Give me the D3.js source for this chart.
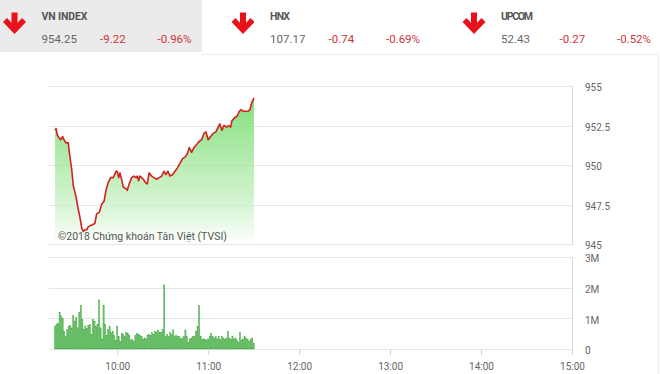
<!DOCTYPE html>
<html><head><meta charset="utf-8">
<script src="https://cdn.jsdelivr.net/npm/d3@7"></script>
<style>
html,body{margin:0;padding:0;background:#fff;}
svg{display:block;font-family:Roboto,"Noto Sans",sans-serif;}
</style></head>
<body>
<svg id="c" width="660" height="374"></svg>
<script>
// ---------- DATA ----------
const indexNames   = ["VN INDEX", "HNX", "UPCOM"];
const indexValues  = ["954.25", "107.17", "52.43"];
const indexChanges = ["-9.22", "-0.74", "-0.27"];
const indexPcts    = ["-0.96%", "-0.69%", "-0.52%"];

// minutes since 09:00
const priceMinutes = [19.0,19.6,20.5,21.8,22.7,24.0,24.9,26.2,27.7,28.4,30.0,31.0,32.8,34.3,35.4,36.6,37.6,38.7,39.9,40.9,43.2,45.3,46.4,48.2,49.7,51.3,52.6,54.1,55.7,57.4,59.2,60.0,61.0,61.8,62.9,64.0,65.8,66.6,67.9,69.5,71.0,72.4,73.2,74.1,75.0,76.1,77.2,78.5,79.8,81.1,82.7,84.2,86.0,87.7,89.3,90.8,92.1,93.5,94.8,96.6,98.1,99.6,101.4,103.1,104.7,106.2,107.5,109.1,110.6,112.4,114.1,115.7,117.2,118.5,120.0,121.6,123.3,125.1,126.6,127.7,129.1,130.4,132.2,133.5,134.8,135.7,137.6,139.1,140.5,141.8,143.1,144.9,146.4,147.5,148.6,150.2];
const priceValues  = [952.2,952.3,951.9,951.7,951.6,951.8,951.6,951.4,951.4,950.8,949.7,948.7,948.0,947.2,946.7,946.0,945.8,945.9,945.9,946.1,946.2,946.3,946.9,947.0,947.5,947.7,948.4,948.9,949.2,949.2,949.6,949.6,949.2,949.5,949.1,948.6,948.5,948.4,948.8,949.2,949.3,949.2,949.3,949.0,949.3,949.2,949.1,948.9,948.8,949.5,949.3,949.2,949.1,949.2,949.3,949.6,949.4,949.6,949.3,949.4,949.6,949.8,950.1,950.4,950.5,950.7,951.1,950.8,951.1,951.3,951.5,951.6,952.0,952.1,951.6,951.8,952.0,952.1,952.4,952.6,952.2,952.5,952.4,952.5,952.4,952.8,953.0,953.1,953.4,953.5,953.4,953.4,953.4,953.5,953.9,954.25];

// per-minute volume (millions of shares) starting 09:19
const volumeStartMinute = 19;
const volumeValues = [0.75,0.8,0.83,1.2,1.08,0.99,0.58,0.42,0.64,0.73,0.77,0.69,1.1,0.91,1.02,0.69,1.19,1.43,0.97,0.64,0.75,0.66,0.77,0.8,0.47,0.97,0.91,0.73,0.8,1.6,0.69,0.33,1.43,0.8,0.44,0.64,0.73,0.53,0.58,0.44,0.29,0.75,0.4,0.25,0.51,0.47,0.4,0.55,0.51,0.44,0.29,0.31,0.25,0.44,0.51,0.47,0.44,0.42,0.31,0.36,0.33,0.44,0.47,0.44,0.53,0.47,0.58,0.55,0.62,0.53,0.55,0.64,2.09,0.4,0.47,0.4,0.55,0.47,0.62,0.4,0.44,0.4,0.4,0.33,0.36,0.4,0.62,0.4,0.22,0.33,0.36,0.4,0.4,0.58,0.73,1.43,0.4,0.31,0.33,0.31,0.29,0.33,0.4,0.51,0.4,0.36,0.4,0.33,0.4,0.31,0.4,0.36,0.31,0.36,0.58,0.36,0.31,0.4,0.33,0.36,0.29,0.22,0.53,0.29,0.33,0.4,0.36,0.31,0.25,0.31,0.36,0.18];

const xTickMinutes = [60,120,180,240,300,360];
const xTickLabels  = ["10:00","11:00","12:00","13:00","14:00","15:00"];
const priceTicks   = [945,947.5,950,952.5,955];
const priceTickLabels = ["945","947.5","950","952.5","955"];
const volTicks     = [0,1,2,3];
const volTickLabels = ["0","1M","2M","3M"];
const copyright = "©2018 Chứng khoán Tân Việt (TVSI)";

// ---------- DRAW ----------
const svg = d3.select("#c");

// header
svg.append("rect").attr("x",0).attr("y",0).attr("width",202).attr("height",52).attr("fill","#ebebeb");
svg.append("line").attr("x1",202).attr("x2",659).attr("y1",54.5).attr("y2",54.5).attr("stroke","#ececec");
svg.append("line").attr("x1",658.5).attr("x2",658.5).attr("y1",54).attr("y2",374).attr("stroke","#ececec");

const groupX = [3.5, 232, 463];
indexNames.forEach((n,i)=>{
  const g = svg.append("g").attr("transform",`translate(${groupX[i]},0)`);
  g.append("path").attr("d","M11,12.5 L11,31").attr("stroke","#e8121b").attr("stroke-width",6).attr("fill","none");
  g.append("path").attr("d","M1.5,20 L11,30 L20.5,20").attr("stroke","#e8121b").attr("stroke-width",5.5).attr("fill","none").attr("stroke-linejoin","miter");
  g.append("text").attr("x",38).attr("y",19.5).attr("font-size",10.5).attr("font-weight","bold").attr("fill","#555").attr("textLength", n==="VN INDEX"?46:(n==="HNX"?20:32)).text(n);
  g.append("text").attr("x",38).attr("y",42.5).attr("font-size",11.5).attr("fill","#666").text(indexValues[i]);
  g.append("text").attr("x",96.5).attr("y",42.5).attr("font-size",11.5).attr("fill","#d0343a").text(indexChanges[i]);
  g.append("text").attr("x",188).attr("y",42.5).attr("font-size",11.5).attr("fill","#d0343a").attr("text-anchor","end").text(indexPcts[i]);
});

const x = d3.scaleLinear().domain([15,360]).range([49,572]);
const yP = d3.scaleLinear().domain([945,955]).range([244,86]);
const yV = d3.scaleLinear().domain([0,3]).range([349,257]);

// grids
function grid(ticks, scale){
  svg.append("g").selectAll("line").data(ticks).join("line")
    .attr("x1",49).attr("x2",572)
    .attr("y1",d=>Math.round(scale(d))+0.5).attr("y2",d=>Math.round(scale(d))+0.5)
    .attr("stroke","#e5e5e5");
}
grid(priceTicks,yP);
grid(volTicks,yV);
// right frame lines
svg.append("line").attr("x1",572.5).attr("x2",572.5).attr("y1",86).attr("y2",245).attr("stroke","#d6d9dd");
svg.append("line").attr("x1",572.5).attr("x2",572.5).attr("y1",257).attr("y2",350).attr("stroke","#d6d9dd");

// gradient
const defs = svg.append("defs");
const grad = defs.append("linearGradient").attr("id","ga").attr("gradientUnits","userSpaceOnUse")
  .attr("x1",0).attr("x2",0).attr("y1",yP(954.5)).attr("y2",yP(945));
grad.append("stop").attr("offset",0).attr("stop-color","#74dc6c").attr("stop-opacity",0.95);
grad.append("stop").attr("offset",0.55).attr("stop-color","#a6e8a0").attr("stop-opacity",0.7);
grad.append("stop").attr("offset",1).attr("stop-color","#ffffff").attr("stop-opacity",0.9);

const pts = priceMinutes.map((m,i)=>[m,priceValues[i]]);
svg.append("path").datum(pts).attr("fill","url(#ga)")
  .attr("d", d3.area().x(d=>x(d[0])).y0(yP(945)).y1(d=>yP(d[1])));

// copyright
svg.append("text").attr("x",58).attr("y",240).attr("font-size",10.5).attr("fill","#555").text(copyright);

svg.append("path").datum(pts).attr("fill","none").attr("stroke","#d3211d").attr("stroke-width",1.6)
  .attr("stroke-linejoin","round")
  .attr("d", d3.line().x(d=>x(d[0])).y(d=>yP(d[1])));

// volume bars
svg.append("g").selectAll("rect").data(volumeValues).join("rect")
  .attr("x",(d,i)=>x(volumeStartMinute+i)-0.6)
  .attr("width",1.2)
  .attr("y",d=>yV(d))
  .attr("height",d=>yV(0)-yV(d))
  .attr("fill","#6cc46a")
  .attr("stroke","#339e33").attr("stroke-width",0.35);

// axes
const yAxisP = d3.axisRight(yP).tickValues(priceTicks).tickSize(0).tickPadding(13)
  .tickFormat((d,i)=>priceTickLabels[i]);
const gp = svg.append("g").attr("transform","translate(572,1.5)").call(yAxisP);
const yAxisV = d3.axisRight(yV).tickValues(volTicks).tickSize(0).tickPadding(13)
  .tickFormat((d,i)=>volTickLabels[i]);
const gv = svg.append("g").attr("transform","translate(572,1.5)").call(yAxisV);
const xAxis = d3.axisBottom(x).tickValues(xTickMinutes).tickSize(6).tickPadding(8)
  .tickFormat((d,i)=>xTickLabels[i]);
const gx = svg.append("g").attr("transform","translate(0,349)").call(xAxis);
[gp,gv,gx].forEach(g=>{
  g.select(".domain").remove();
  g.selectAll("text").attr("fill","#666").attr("font-size",10).attr("font-family","Roboto,sans-serif");
  g.selectAll("line").attr("stroke","#cfd3d8");
});
</script>
</body></html>
